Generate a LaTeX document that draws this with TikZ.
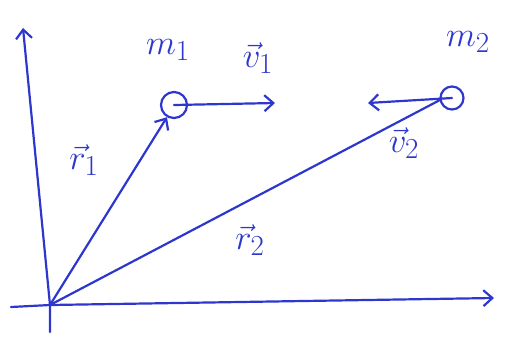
\documentclass[tikz,border=0pt]{standalone}
\usepackage{graphicx}
\usetikzlibrary{arrows.meta}
\definecolor{ink}{RGB}{45,55,205}
\newcommand{\biglbl}[1]{\scalebox{1.4}{#1}}
\begin{document}
\begin{tikzpicture}[x=1pt,y=-1pt,
  ink/.style={draw=ink,line width=2.2pt,line cap=round,line join=round},
  vec/.style={ink,-{Straight Barb[length=9pt,width=16pt]}},
  mass/.style={circle,draw=ink,line width=2.2pt,minimum size=#1,inner sep=0pt},
  lbl/.style={text=ink,font=\fontsize{24.88}{28}\selectfont,inner sep=0pt}]
\useasboundingbox (0,0) rectangle (506,338);
\coordinate (O) at (50,305);
\coordinate (ybot) at (50,332);
\coordinate (ytop) at (23,28);
\coordinate (xleft) at (11,307);
\coordinate (xright) at (494,298);
\node[mass=26pt] (m1) at (174,105) {};
\node[mass=23pt] (m2) at (452,98) {};
\coordinate (v1end) at (275,103);
\coordinate (v2end) at (368,103);
% axes
\draw[vec] (ybot) -- (O) -- (ytop);
\draw[vec] (xleft) -- (O) -- (xright);
% position vectors
\draw[vec] (O) -- (m1.240);
\draw[ink] (O) -- (m2.190);
% velocities
\draw[vec] (m1.center) -- (v1end);
\draw[vec] (m2.center) -- (v2end);
% labels
\node[lbl] (lm1) at (168,50) {\biglbl{$m_1$}};
\node[lbl] (lv1) at (258,58) {\biglbl{$\vec{v}_1$}};
\node[lbl] (lr1) at (84,160) {\biglbl{$\vec{r}_1$}};
\node[lbl] (lm2) at (468,42) {\biglbl{$m_2$}};
\node[lbl] (lv2) at (404,143) {\biglbl{$\vec{v}_2$}};
\node[lbl] (lr2) at (250,240) {\biglbl{$\vec{r}_2$}};
\end{tikzpicture}
\end{document}
